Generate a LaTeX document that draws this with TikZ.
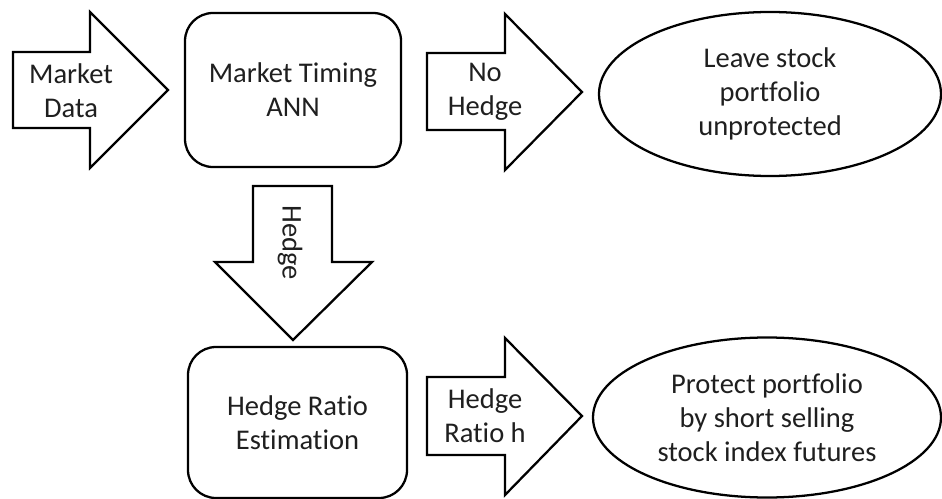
\documentclass[tikz,border=0pt]{standalone}
\usepackage{fontspec}
\setmainfont{Carlito}[Ligatures=NoCommon]
\usetikzlibrary{shapes.geometric}
\begin{document}
\begin{tikzpicture}[x=0.75pt,y=-0.75pt,line width=1.7pt,
  lbl/.style={align=center,font=\fontsize{21.4}{25.5}\selectfont,inner sep=0pt,text=black!88},
  rbox/.style={draw,rounded corners=21pt,align=center,font=\fontsize{21.4}{25.5}\selectfont,inner sep=0pt,text=black!88},
  oval/.style={draw,ellipse,align=center,font=\fontsize{21.4}{25.5}\selectfont,inner sep=0pt,text=black!88},
  blk/.style={draw,line join=miter,fill=white}]
\useasboundingbox (0,0) rectangle (942,499);
% block arrow: Market Data
\draw[blk] (13,52) -- (90,52) -- (90,12) -- (168,90) -- (90,168) -- (90,128) -- (13,128) -- cycle;
\node[lbl] (mdata) at (71,91) {Market\\Data};
% Market Timing ANN
\node[rbox,minimum width=162pt,minimum height=115.5pt] (timing) at (293,90) {Market Timing\\ANN};
% block arrow: No Hedge
\draw[blk] (427,53) -- (505,53) -- (505,14) -- (582,92) -- (505,170) -- (505,130) -- (427,130) -- cycle;
\node[lbl] (nohedge) at (485,92) {No\\Hedge};
% ellipse: Leave stock portfolio unprotected
\node[oval,minimum width=256.5pt,minimum height=123pt] (leave) at (770,94) {Leave stock\\portfolio\\unprotected};
% down block arrow: Hedge
\draw[blk] (253,186) -- (332,186) -- (332,262) -- (372,262) -- (293,340) -- (215,262) -- (253,262) -- cycle;
\node[lbl,rotate=-90] (hedge) at (290,243) {Hedge};
% Hedge Ratio Estimation
\node[rbox,minimum width=164.25pt,minimum height=113.25pt] (ratio) at (297.5,422.5) {Hedge Ratio\\Estimation};
% block arrow: Hedge Ratio h
\draw[blk] (427,377) -- (505,377) -- (505,338) -- (582,416) -- (505,495) -- (505,455) -- (427,455) -- cycle;
\node[lbl] (hratio) at (485,416) {Hedge\\Ratio h};
% ellipse: Protect portfolio
\node[oval,minimum width=261pt,minimum height=120pt] (protect) at (767,417.5) {Protect portfolio\\by short selling\\stock index futures};
\end{tikzpicture}
\end{document}
